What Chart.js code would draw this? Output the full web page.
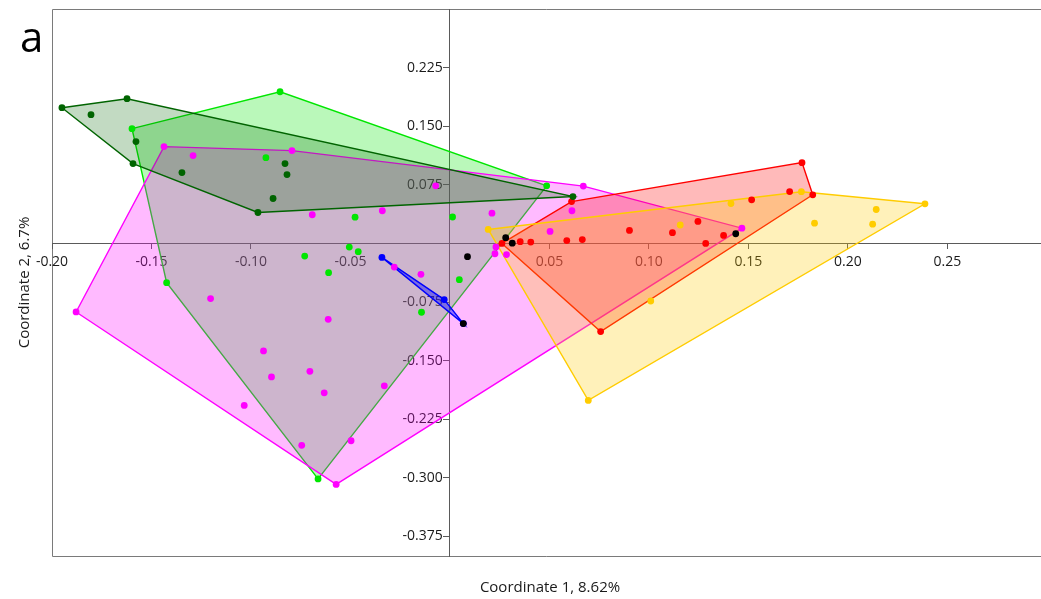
<!DOCTYPE html>
<html>
<head>
<meta charset="utf-8">
<script src="https://cdn.jsdelivr.net/npm/chart.js@4.4.1/dist/chart.umd.min.js"></script>
<style>
html,body{margin:0;padding:0;background:#fff;}
#wrap{width:1041px;height:599px;position:relative;}
</style>
</head>
<body>
<div id="wrap"><canvas id="c" width="1041" height="599"></canvas></div>
<script>
// ---- data: [Coordinate 1, Coordinate 2] per sample, grouped ----
const darkGreenPts = [[-0.195,0.1737],[-0.1623,0.1852],[-0.1804,0.1648],[-0.1578,0.1303],[-0.1593,0.1022],[-0.1347,0.0907],[-0.0829,0.1022],[-0.0819,0.0881],[-0.0889,0.0575],[-0.0965,0.0396],[0.0618,0.0600]];
const limeGreenPts = [[-0.1598,0.1469],[-0.0854,0.1941],[-0.0925,0.1098],[-0.0477,0.0336],[0.0013,0.0338],[0.0486,0.0737],[-0.0730,-0.0162],[-0.0506,-0.0047],[-0.0461,-0.0106],[-0.0610,-0.0374],[-0.1424,-0.0502],[-0.0143,-0.0881],[0.0047,-0.0464],[-0.0663,-0.3014]];
const magentaPts = [[-0.1437,0.1239],[-0.1291,0.1124],[-0.0794,0.1188],[-0.0692,0.0367],[-0.0340,0.0418],[-0.0072,0.0737],[0.0670,0.0734],[0.0613,0.0418],[0.0211,0.0387],[0.0503,0.0153],[0.0231,-0.0045],[0.0226,-0.0132],[0.0284,-0.0143],[0.1467,0.0195],[-0.0280,-0.0303],[-0.0146,-0.0396],[-0.0330,-0.1822],[-0.1203,-0.0706],[-0.0612,-0.0971],[-0.1879,-0.0877],[-0.0937,-0.1375],[-0.0897,-0.1708],[-0.0704,-0.1637],[-0.0632,-0.1912],[-0.1034,-0.2073],[-0.0745,-0.2584],[-0.0497,-0.2525],[-0.0572,-0.3084]];
const redPts = [[0.0261,0.0000],[0.0611,0.0536],[0.0353,0.0023],[0.0406,0.0017],[0.0587,0.0036],[0.0665,0.0049],[0.0902,0.0166],[0.1118,0.0137],[0.1769,0.1034],[0.1823,0.0622],[0.1707,0.0664],[0.1516,0.0558],[0.1246,0.0281],[0.1375,0.0102],[0.1285,0.0000],[0.0757,-0.1128]];
const yellowPts = [[0.0192,0.0179],[0.1157,0.0236],[0.1412,0.0511],[0.1766,0.0662],[0.1832,0.0259],[0.2142,0.0434],[0.2124,0.0246],[0.2387,0.0507],[0.1009,-0.0737],[0.0695,-0.2009]];
const bluePts = [[-0.0342,-0.0179],[-0.0029,-0.0719],[0.0067,-0.1026]];
const blackPts = [[0.0280,0.0073],[0.0313,0.0003],[0.0088,-0.0169],[0.1436,0.0124],[0.0067,-0.1026]];

const xTicks = [-0.20,-0.15,-0.10,-0.05,0.05,0.10,0.15,0.20,0.25];
const yTicks = [-0.375,-0.300,-0.225,-0.150,-0.075,0.075,0.150,0.225];

const xTitle = 'Coordinate 1, 8.62%';
const yTitle = 'Coordinate 2, 6.7%';
const panelLabel = 'a';

// ---- styling ----
const FONT = '"Open Sans", "Noto Sans", sans-serif';
const groups = [
  {pts: limeGreenPts, color: '#00e600', fillA: 0.27, hull: true},
  {pts: magentaPts,   color: '#ff00ff', fillA: 0.27, hull: true},
  {pts: redPts,       color: '#ff0000', fillA: 0.27, hull: true},
  {pts: yellowPts,    color: '#ffcc00', fillA: 0.27, hull: true},
  {pts: darkGreenPts, color: '#006400', fillA: 0.24, hull: true},
  {pts: bluePts,      color: '#0000ff', fillA: 0.4,  hull: true},
  {pts: blackPts,     color: '#000000', fillA: 0,    hull: false}
];

function rgba(hex, a){
  const n = parseInt(hex.slice(1),16);
  return `rgba(${(n>>16)&255},${(n>>8)&255},${n&255},${a})`;
}
// convex hull (monotone chain) of a group's points
function convexHull(pts){
  const p = pts.map(q=>q.slice()).sort((a,b)=>a[0]-b[0]||a[1]-b[1]);
  const cross=(o,a,b)=>(a[0]-o[0])*(b[1]-o[1])-(a[1]-o[1])*(b[0]-o[0]);
  const lower=[];for(const q of p){while(lower.length>=2&&cross(lower[lower.length-2],lower[lower.length-1],q)<=0)lower.pop();lower.push(q);}
  const upper=[];for(let i=p.length-1;i>=0;i--){const q=p[i];while(upper.length>=2&&cross(upper[upper.length-2],upper[upper.length-1],q)<=0)upper.pop();upper.push(q);}
  upper.pop();lower.pop();
  const h=lower.concat(upper);
  h.push(h[0]);
  return h;
}

const datasets = [];
groups.forEach((g,i)=>{
  if(g.hull){
    datasets.push({
      type:'line',
      data: convexHull(g.pts).map(([x,y])=>({x,y})),
      borderColor: g.color,
      backgroundColor: rgba(g.color, g.fillA),
      borderWidth: 1.4,
      fill: 'shape',
      pointRadius: 0,
      tension: 0,
      order: 100 - i
    });
  }
});
groups.forEach((g,i)=>{
  datasets.push({
    type:'scatter',
    data: g.pts.map(([x,y])=>({x,y})),
    backgroundColor: g.color,
    borderColor: g.color,
    pointRadius: 3.4,
    pointBorderWidth: 0,
    showLine: false,
    order: 50 - i
  });
});

const framePlugin = {
  id:'frame',
  beforeDraw(chart){
    const {ctx, chartArea:a, width} = chart;
    const l = Math.round(a.left)+0.5, t = Math.round(a.top)+0.5, b = Math.round(a.bottom)+0.5;
    ctx.save();
    ctx.strokeStyle = '#7a7a7a';
    ctx.lineWidth = 1;
    ctx.beginPath();
    ctx.moveTo(width, t); ctx.lineTo(l, t); ctx.lineTo(l, b); ctx.lineTo(width, b);
    ctx.stroke();
    // continue the x axis line to the window edge
    const y0 = Math.round(chart.scales.y.getPixelForValue(0)) + 0.5;
    ctx.strokeStyle = '#5a5a5a';
    ctx.beginPath();
    ctx.moveTo(a.right - 1, y0); ctx.lineTo(width, y0);
    ctx.stroke();
    ctx.restore();
  },
  afterDraw(chart){
    const {ctx, chartArea:a} = chart;
    ctx.save();
    ctx.fillStyle = '#1a1a1a';
    ctx.font = `15px ${FONT}`;
    ctx.textAlign = 'center';
    ctx.textBaseline = 'middle';
    ctx.fillText(xTitle, 550, 588);
    ctx.translate(25, (a.top + a.bottom)/2);
    ctx.rotate(-Math.PI/2);
    ctx.fillText(yTitle, 0, 0);
    ctx.restore();
    ctx.save();
    ctx.fillStyle = '#000';
    ctx.font = `42px ${FONT}`;
    ctx.textAlign = 'left';
    ctx.textBaseline = 'alphabetic';
    ctx.fillText(panelLabel, 20, 52);
    ctx.restore();
  }
};

new Chart(document.getElementById('c'), {
  data: {datasets},
  options: {
    responsive:false,
    animation:false,
    devicePixelRatio:1,
    layout:{padding:{left:52, top:9, right:0, bottom:43}},
    plugins:{legend:{display:false}, tooltip:{enabled:false}},
    scales:{
      x:{
        type:'linear', min:-0.2, max:0.295,
        position:{y:0},
        afterBuildTicks: s => { s.ticks = xTicks.map(v=>({value:v})); },
        ticks:{callback:v=>v.toFixed(2), font:{family:FONT,size:14}, color:'#1a1a1a', padding:5, maxRotation:0, autoSkip:false},
        grid:{drawOnChartArea:false, drawTicks:true, tickLength:5, color:'#5a5a5a'},
        border:{display:true, color:'#5a5a5a', width:1}
      },
      y:{
        type:'linear', min:-0.4, max:0.3,
        position:{x:0},
        afterBuildTicks: s => { s.ticks = yTicks.map(v=>({value:v})); },
        ticks:{callback:v=>v.toFixed(3) + '  ', font:{family:FONT,size:14}, color:'#1a1a1a', padding:0, autoSkip:false},
        grid:{drawOnChartArea:false, drawTicks:true, tickLength:6, color:'#5a5a5a'},
        border:{display:true, color:'#5a5a5a', width:1}
      }
    }
  },
  plugins:[framePlugin]
});
</script>
</body>
</html>
